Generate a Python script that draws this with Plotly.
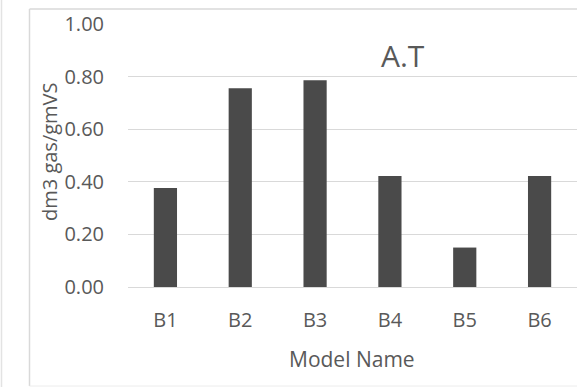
import plotly.graph_objects as go

categories = ["B1", "B2", "B3", "B4", "B5", "B6"]
values = [0.376, 0.756, 0.786, 0.422, 0.150, 0.422]
y_ticks = [0.0, 0.2, 0.4, 0.6, 0.8, 1.0]
y_tick_labels = ["0.00", "0.20", "0.40", "0.60", "0.80", "1.00"]

TEXT = "#595959"
GRID = "#d9d9d9"
FONT = "Open Sans"

W, H = 577, 387
L, R, T, B = 128, 0, 24, 100
pw, ph = W - L - R, H - T - B

def px(x):
    return (x - L) / pw

def py(y):
    return (H - B - y) / ph

fig = go.Figure(go.Bar(
    x=categories, y=values,
    marker=dict(color="#4a4a4a", line=dict(width=0)),
))

fig.update_layout(
    width=W, height=H,
    margin=dict(l=L, r=R, t=T, b=B),
    paper_bgcolor="white", plot_bgcolor="white",
    bargap=0.69,
    showlegend=False,
    font=dict(family=FONT, color=TEXT),
    xaxis=dict(
        showgrid=False, showline=False, zeroline=False,
        tickfont=dict(size=20, color=TEXT, family=FONT),
        ticklabelstandoff=19,
    ),
    yaxis=dict(
        range=[0, 1.0],
        tickvals=y_ticks, ticktext=y_tick_labels,
        showgrid=True, gridcolor=GRID, gridwidth=1,
        zeroline=True, zerolinecolor=GRID, zerolinewidth=1,
        showline=False,
        tickfont=dict(size=20, color=TEXT, family=FONT),
        ticklabelstandoff=23,
    ),
    annotations=[
        dict(text="A.T", x=px(403), y=py(55), xref="paper", yref="paper",
             xanchor="center", yanchor="middle", showarrow=False,
             font=dict(size=30, color=TEXT, family=FONT)),
        dict(text="dm3 gas/gmVS", x=px(49), y=py(152), xref="paper", yref="paper",
             xanchor="center", yanchor="middle", textangle=-90, showarrow=False,
             font=dict(size=20, color=TEXT, family=FONT)),
        dict(text="Model Name", x=px(352), y=py(359), xref="paper", yref="paper",
             xanchor="center", yanchor="middle", showarrow=False,
             font=dict(size=21, color=TEXT, family=FONT)),
    ],
    shapes=[
        dict(type="line", xref="paper", yref="paper",
             x0=px(1.5), x1=px(1.5), y0=py(0), y1=py(387),
             line=dict(color="#e3e3e3", width=1.5), layer="below"),
        dict(type="line", xref="paper", yref="paper",
             x0=px(29.5), x1=px(29.5), y0=py(9), y1=py(386),
             line=dict(color=GRID, width=1.5), layer="below"),
        dict(type="line", xref="paper", yref="paper",
             x0=px(29.5), x1=px(600), y0=py(9), y1=py(9),
             line=dict(color=GRID, width=1.5), layer="below"),
        dict(type="line", xref="paper", yref="paper",
             x0=px(29.5), x1=px(600), y0=py(386), y1=py(386),
             line=dict(color="#ececec", width=1), layer="below"),
    ],
)

fig.write_html(
    "out.html",
    config={"displayModeBar": False},
    post_script="document.body.style.margin='0';document.body.style.overflow='hidden';",
)
